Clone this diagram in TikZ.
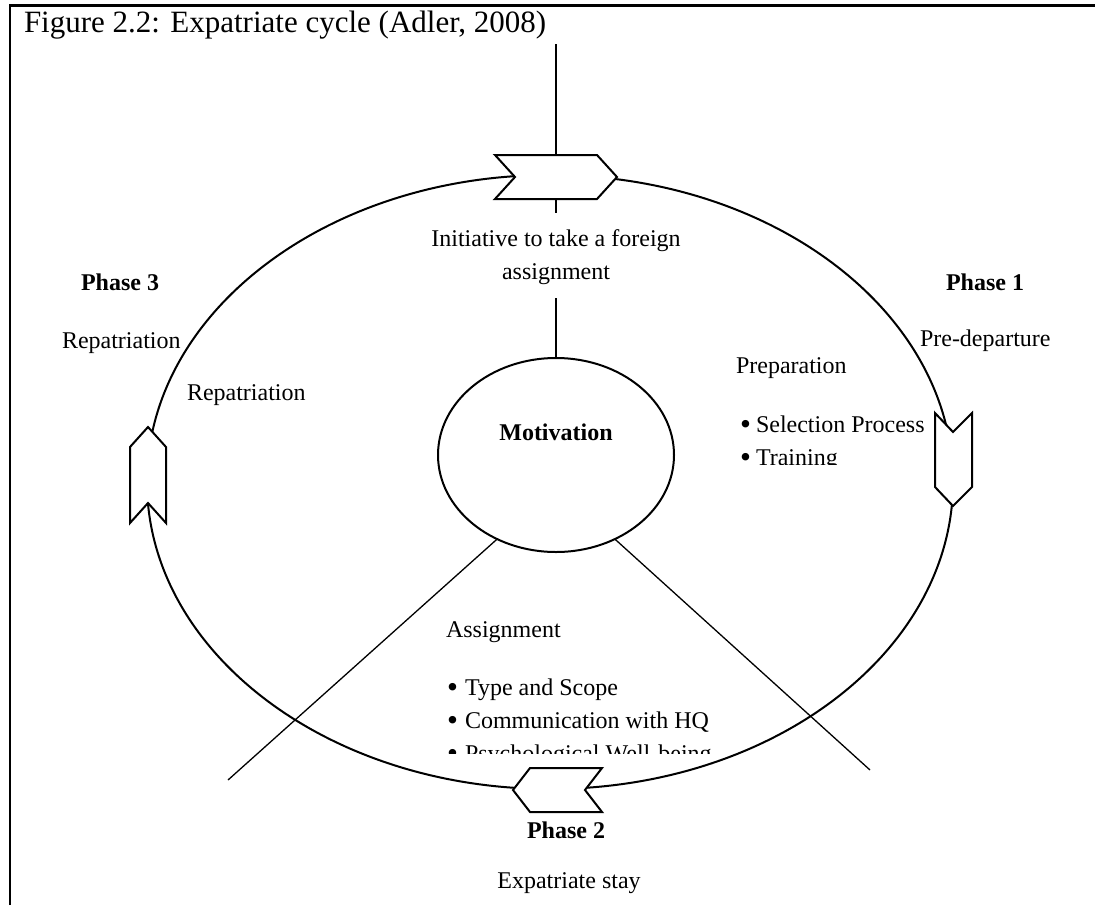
\documentclass[tikz,border=0pt]{standalone}
\usepackage{fontspec}
\setmainfont{Liberation Serif}
\usetikzlibrary{shapes.geometric}
\newcommand{\blt}[1][16pt]{\makebox[#1][l]{\raisebox{-2.6pt}{\scalebox{1.3}{•}}}}
\begin{document}
\begin{tikzpicture}[x=1pt,y=-1pt,
  every node/.style={inner sep=0pt, outer sep=0pt},
  txt/.style={font=\fontsize{24}{33}\selectfont, anchor=base west},
  bold/.style={font=\fontsize{24}{33}\selectfont\bfseries, anchor=base west},
  rim/.style={draw, line width=2pt},
  spoke/.style={line width=1.3pt},
  chev/.style={line width=2pt, fill=white, line join=miter}]
\useasboundingbox (0,0) rectangle (1095,905);

% frame edges
\draw[line width=2.5pt] (10,905) -- (10,5.3) -- (1095,5.3);
\node[txt, font=\fontsize{31}{36}\selectfont] (title) at (24,32) {Figure 2.2: Expatriate cycle (Adler, 2008)};

% the cycle
\node[rim, ellipse, minimum width=806pt, minimum height=614pt] (cycle) at (550,482) {};

% dividing lines
\coordinate (topend) at (556,44);
\coordinate (lend) at (228,780);
\coordinate (rend) at (870,770);
\node[txt, anchor=base] (ini1) at (556,246) {Initiative to take a foreign};
\node[txt, anchor=base] (ini2) at (556,279) {assignment};
\node[rim, ellipse, fill=white, minimum width=236pt, minimum height=194pt] (mot) at (556,455) {};
\draw[spoke, shorten >=16pt] (topend) -- (ini1.north);
\draw[spoke, shorten <=14pt] (ini2.south) -- (mot.north);
\draw[spoke] (mot.235) -- (lend);
\draw[spoke] (mot.305) -- (rend);
\node[bold, anchor=base] (motl) at (556,440) {Motivation};

% chevrons on the cycle
\draw[chev] (495,155) -- (597,155) -- (617,177) -- (597,199) -- (495,199) -- (515,177) -- cycle;
\draw[chev] (935,413) -- (953,432) -- (972,413) -- (972,487) -- (953,506) -- (935,487) -- cycle;
\draw[chev] (513,790) -- (530,768) -- (602,768) -- (585,790) -- (602,812) -- (530,812) -- cycle;
\draw[chev] (148,427) -- (166,447) -- (166,523) -- (148,503) -- (130,523) -- (130,447) -- cycle;

% phase 1
\node[bold] (ph1) at (946,290) {Phase 1};
\node[txt] (pre) at (920,346) {Pre-departure};
\begin{scope}
  \clip (725,345) rectangle (933,464);
  \node[txt] (prep) at (736,373) {Preparation};
  \node[txt] (sel) at (740,432) {\blt Selection Process};
  \node[txt] (trn) at (740,465) {\blt Training};
\end{scope}

% phase 2
\begin{scope}
  \clip (435,600) rectangle (740,753);
  \node[txt] (asg) at (446,637) {Assignment};
  \node[txt] (typ) at (447,695) {\blt[18pt]Type and Scope};
  \node[txt] (com) at (447,728) {\blt[18pt]Communication with HQ};
  \node[txt] (psy) at (447,761) {\blt[18pt]Psychological Well-being};
\end{scope}
\node[bold, anchor=base] (ph2) at (566,838) {Phase 2};
\node[txt, anchor=base] (stay) at (569,888) {Expatriate stay};

% phase 3
\node[bold] (ph3) at (81,290) {Phase 3};
\node[txt] (rep3) at (62,348) {Repatriation};
\node[txt] (rep3b) at (187,400) {Repatriation};
\end{tikzpicture}
\end{document}
